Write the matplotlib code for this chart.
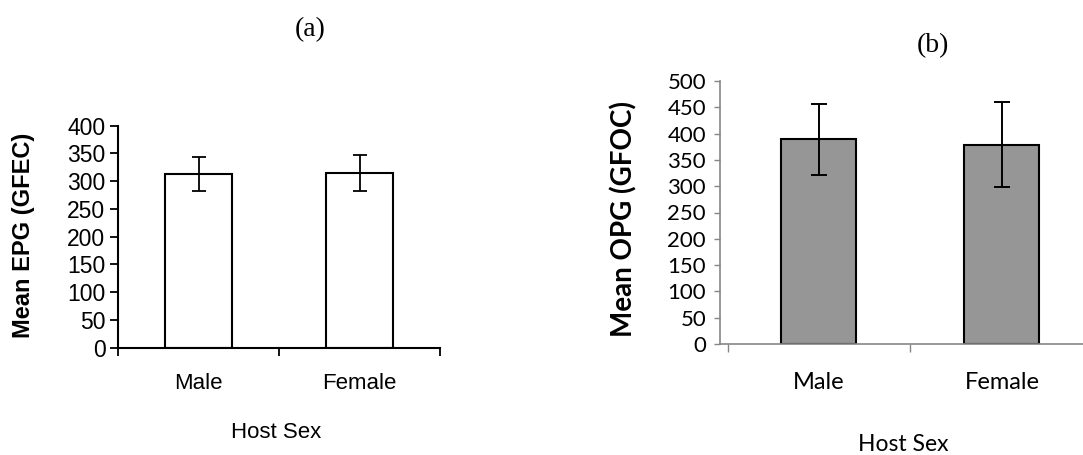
import matplotlib
matplotlib.use("Agg")
import matplotlib.pyplot as plt

# ---- data ----
sexes = ['Male', 'Female']
epg_mean = [313, 315]
epg_err = [30, 32]
opg_mean = [389, 379]
opg_err = [67, 81]

plt.rcParams['font.family'] = ['Liberation Sans', 'DejaVu Sans']

W, H = 1083, 455
fig = plt.figure(figsize=(W / 100, H / 100), dpi=100)


def frac(x0, y0, x1, y1):
    # pixel box (top-left origin) -> figure fraction rect
    return [x0 / W, 1 - y1 / H, (x1 - x0) / W, (y1 - y0) / H]


# ================= (a) EPG, white bars, Arial look ================= #
axa = fig.add_axes(frac(118, 125.7, 440, 347.7))
axa.bar(range(2), epg_mean, width=0.416, color='white', edgecolor='black',
        linewidth=1.5, zorder=2)
axa.errorbar(range(2), epg_mean, yerr=epg_err, fmt='none', ecolor='black',
             elinewidth=1.3, capsize=5, capthick=1.3, zorder=3)
axa.set_xlim(-0.5, 1.5)
axa.set_ylim(0, 400)
axa.set_yticks(range(0, 401, 50))
axa.set_xticks([-0.5, 0.5, 1.5])
axa.set_xticklabels([])
axa.set_xticks(range(2), minor=True)
axa.set_xticklabels(sexes, minor=True, fontsize=16)
axa.tick_params(axis='x', which='minor', length=0, pad=18)
axa.tick_params(axis='x', which='major', length=6, width=1.3, direction='out')
axa.tick_params(axis='y', length=6, width=1.3, direction='out', pad=3,
                labelsize=16.5)
for s in ['top', 'right']:
    axa.spines[s].set_visible(False)
for s in ['left', 'bottom']:
    axa.spines[s].set_linewidth(1.5)
axa.set_ylabel('Mean EPG (GFEC)', fontsize=17, fontweight='bold')
axa.yaxis.set_label_coords(-0.295, 0.508)
axa.yaxis.label.set_va('center')
axa.set_xlabel('Host Sex', fontsize=16)
axa.xaxis.set_label_coords(0.49, -0.384)
axa.xaxis.label.set_va('center')

# ================= (b) OPG, grey bars, Calibri look ================= #
axb = fig.add_axes(frac(720, 81, 1083, 344))
fb = ['Lato', 'DejaVu Sans']
grey = '#868686'
axb.bar(range(2), opg_mean, width=0.41, color='#969696', edgecolor='black',
        linewidth=1.5, zorder=2)
axb.errorbar(range(2), opg_mean, yerr=opg_err, fmt='none', ecolor='black',
             elinewidth=1.4, capsize=6, capthick=1.4, zorder=3)
axb.set_xlim(-0.541, 1.443)
axb.set_ylim(0, 500)
axb.set_yticks(range(0, 501, 50))
axb.set_xticks([-0.5, 0.5])
axb.set_xticklabels([])
axb.set_xticks(range(2), minor=True)
axb.set_xticklabels(sexes, minor=True, fontsize=17, family=fb)
axb.tick_params(axis='x', which='minor', length=0, pad=20)
axb.tick_params(axis='x', which='major', length=6, width=1, color=grey)
axb.tick_params(axis='y', length=4, width=1, color=grey, pad=6, labelsize=16)
for lab in axb.get_yticklabels():
    lab.set_family(fb)
for s in ['top', 'right']:
    axb.spines[s].set_visible(False)
for s in ['left', 'bottom']:
    axb.spines[s].set_color(grey)
    axb.spines[s].set_linewidth(1.2)
axb.set_ylabel('Mean OPG (GFOC)', fontsize=20, fontweight='bold', family=fb)
axb.yaxis.set_label_coords(-0.265, 0.475)
axb.yaxis.label.set_va('center')
axb.set_xlabel('Host Sex', fontsize=16.5, family=fb)
axb.xaxis.set_label_coords(0.504, -0.384)
axb.xaxis.label.set_va('center')

# panel letters
fig.text(310 / W, 1 - 30 / H, '(a)', fontsize=20, family='Liberation Serif',
         ha='center', va='center')
fig.text(933 / W, 1 - 46 / H, '(b)', fontsize=20, family='Liberation Serif',
         ha='center', va='center')

fig.savefig('out.png', dpi=100)
